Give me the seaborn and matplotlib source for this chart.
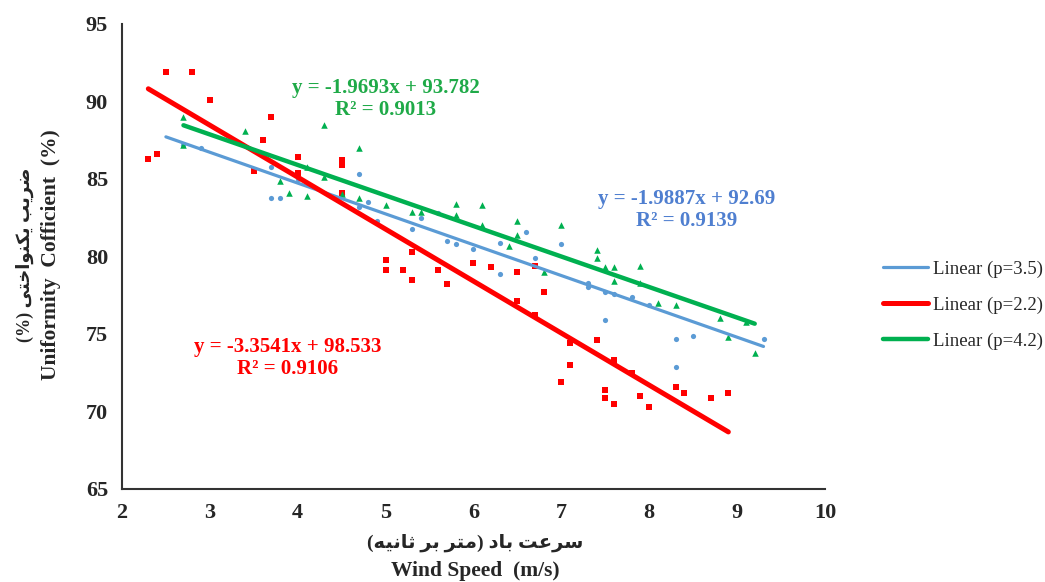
import matplotlib
matplotlib.use("Agg")
import matplotlib.pyplot as plt
import seaborn as sns

# scatter data (wind speed m/s, uniformity %)
red_x = [2.3, 2.4, 2.5, 2.8, 3.0, 3.5, 3.6, 3.7, 4.0, 4.0, 4.5, 4.5, 4.5, 5.0, 5.0, 5.2, 5.3, 5.3, 5.6, 5.7,
         6.0, 6.2, 6.5, 6.5, 6.7, 6.7, 6.8, 7.0, 7.1, 7.1, 7.4, 7.5, 7.5, 7.6, 7.6, 7.8, 7.9, 8.0, 8.3, 8.4,
         8.7, 8.9]
red_y = [86.3, 86.6, 91.9, 91.9, 90.1, 85.5, 87.5, 89.0, 86.4, 85.4, 86.2, 85.9, 84.1, 79.8, 79.1, 79.1, 78.5, 80.3, 79.1, 78.2,
         79.6, 79.3, 79.0, 77.1, 79.4, 76.2, 77.7, 71.9, 74.4, 73.0, 74.6, 71.4, 70.9, 73.3, 70.5, 72.5, 71.0, 70.3, 71.6, 71.2,
         70.9, 71.2]

blue_x = [2.7, 2.9, 3.7, 3.7, 3.8, 4.0, 4.5, 4.7, 4.7, 4.8, 4.9, 5.3, 5.4, 5.6, 5.7, 5.8, 6.0, 6.3, 6.3, 6.6,
          6.7, 7.0, 7.3, 7.3, 7.5, 7.5, 7.6, 7.8, 8.0, 8.3, 8.3, 8.5, 9.3]
blue_y = [87.2, 87.0, 85.8, 83.8, 83.8, 85.0, 84.0, 85.3, 83.2, 83.5, 82.3, 81.8, 82.5, 82.8, 81.0, 80.8, 80.5, 80.9, 78.9, 81.6,
          79.9, 80.8, 78.3, 78.0, 75.9, 77.7, 77.6, 77.4, 76.9, 74.7, 72.9, 74.9, 74.7]

green_x = [2.7, 2.7, 3.4, 3.8, 3.9, 4.1, 4.1, 4.3, 4.3, 4.5, 4.7, 4.7, 5.0, 5.3, 5.4, 5.8, 5.8, 6.1, 6.1, 6.4,
           6.5, 6.5, 6.8, 7.0, 7.4, 7.4, 7.5, 7.6, 7.6, 7.9, 7.9, 8.1, 8.3, 8.8, 8.9, 9.1, 9.2]
green_y = [89.0, 87.2, 88.1, 84.9, 84.1, 83.9, 85.8, 88.5, 85.1, 84.0, 87.0, 83.8, 83.3, 82.9, 82.9, 83.4, 82.7, 83.3, 82.0, 80.7,
           82.3, 81.4, 79.0, 82.0, 80.4, 79.9, 79.3, 79.3, 78.4, 79.4, 78.3, 77.0, 76.9, 76.0, 74.8, 75.8, 73.8]

# trendline equations printed on the chart
series = ["p=3.5", "p=2.2", "p=4.2"]
slopes = [-1.9887, -3.3541, -1.9693]
intercepts = [92.69, 98.533, 93.782]
r2 = [0.9139, 0.9106, 0.9013]
x_start = [2.5, 2.3, 2.7]
x_end = [9.3, 8.9, 9.2]

colors = ["#5B9BD5", "#FF0000", "#00B050"]
text_colors = ["#4F7FD0", "#FF0000", "#1FAA48"]
line_widths = [2.3, 3.6, 3.2]

# Persian letters -> (isolated, final, initial, medial) presentation forms
FORMS = {
    "ا": ("\uFE8D", "\uFE8E", None, None),
    "د": ("\uFEA9", "\uFEAA", None, None),
    "ر": ("\uFEAD", "\uFEAE", None, None),
    "و": ("\uFEED", "\uFEEE", None, None),
    "ب": ("\uFE8F", "\uFE90", "\uFE91", "\uFE92"),
    "ت": ("\uFE95", "\uFE96", "\uFE97", "\uFE98"),
    "ث": ("\uFE99", "\uFE9A", "\uFE9B", "\uFE9C"),
    "خ": ("\uFEA5", "\uFEA6", "\uFEA7", "\uFEA8"),
    "س": ("\uFEB1", "\uFEB2", "\uFEB3", "\uFEB4"),
    "ض": ("\uFEBD", "\uFEBE", "\uFEBF", "\uFEC0"),
    "ع": ("\uFEC9", "\uFECA", "\uFECB", "\uFECC"),
    "م": ("\uFEE1", "\uFEE2", "\uFEE3", "\uFEE4"),
    "ن": ("\uFEE5", "\uFEE6", "\uFEE7", "\uFEE8"),
    "ه": ("\uFEE9", "\uFEEA", "\uFEEB", "\uFEEC"),
    "ی": ("\uFBFC", "\uFBFD", "\uFBFE", "\uFBFF"),
    "ک": ("\uFB8E", "\uFB8F", "\uFB90", "\uFB91"),
}


def persian(text):
    # matplotlib has no arabic shaping / bidi, so do a tiny version by hand
    out = []
    for i, ch in enumerate(text):
        if ch not in FORMS:
            out.append(ch)
            continue
        iso, fin, ini, med = FORMS[ch]
        prev = text[i - 1] if i > 0 else ""
        nxt = text[i + 1] if i + 1 < len(text) else ""
        jp = prev in FORMS and FORMS[prev][2] is not None
        jn = ini is not None and nxt in FORMS
        if jp and jn:
            out.append(med)
        elif jp:
            out.append(fin)
        elif jn:
            out.append(ini)
        else:
            out.append(iso)
    return "".join(reversed(out)).translate(str.maketrans("()", ")("))


sns.set_style("white")
plt.rcParams["font.family"] = ["Liberation Serif", "DejaVu Sans"]

fig = plt.figure(figsize=(10.45, 5.82), dpi=100)
ax = fig.add_axes([0.1167, 0.1598, 0.6728, 0.799])

sns.scatterplot(x=blue_x, y=blue_y, ax=ax, color=colors[0], marker="o", s=14, linewidth=0)
sns.scatterplot(x=red_x, y=red_y, ax=ax, color=colors[1], marker="s", s=22, linewidth=0)
sns.scatterplot(x=green_x, y=green_y, ax=ax, color=colors[2], marker="^", s=22, linewidth=0)

for i in range(3):
    xs = [x_start[i], x_end[i]]
    ys = [slopes[i] * v + intercepts[i] for v in xs]
    sns.lineplot(x=xs, y=ys, ax=ax, color=colors[i], linewidth=line_widths[i],
                 label="Linear (%s)" % series[i], solid_capstyle="round")

# equation labels
eq_pos = [(8.43, 83.0), (3.89, 73.45), (5.0, 90.15)]
for i in range(3):
    ax.text(eq_pos[i][0], eq_pos[i][1],
            "y = %sx + %s\nR\u00b2 = %s" % (slopes[i], intercepts[i], r2[i]),
            color=text_colors[i], fontsize=15, fontweight="bold", ha="center", va="center",
            linespacing=1.1)

ax.set_xlim(2, 10)
ax.set_ylim(65, 95)
ax.set_xticks(range(2, 11))
ax.set_yticks(range(65, 96, 5))
ax.tick_params(direction="out", length=4, width=1.3, color="#333333", pad=6, labelsize=16)
for lab in ax.get_xticklabels() + ax.get_yticklabels():
    lab.set_fontweight("bold")
for side in ["top", "right"]:
    ax.spines[side].set_visible(False)
for side in ["left", "bottom"]:
    ax.spines[side].set_color("#333333")
    ax.spines[side].set_linewidth(1.5)
ax.set_xlabel("")
ax.set_ylabel("")

ax.legend(loc="center left", bbox_to_anchor=(1.058, 0.395), frameon=False, fontsize=13.5,
          handlelength=2.4, labelspacing=1.0, handletextpad=0.3)

# axis titles, persian + english
fig.text(475 / 1045, 1 - 543 / 582, persian("سرعت باد (متر بر ثانیه)"), ha="center", va="center",
         fontsize=14, fontweight="bold")
fig.text(475 / 1045, 1 - 571 / 582, "Wind Speed  (m/s)", ha="center", va="center",
         fontsize=15.5, fontweight="bold")
fig.text(25 / 1045, 1 - 255 / 582, persian("ضریب یکنواختی (%)"), ha="center", va="center",
         rotation=90, fontsize=13, fontweight="bold")
fig.text(51 / 1045, 1 - 255 / 582, "Uniformity  Cofficient  (%)", ha="center", va="center",
         rotation=90, fontsize=15.5, fontweight="bold")

plt.savefig("out.png", dpi=100)
plt.close()
